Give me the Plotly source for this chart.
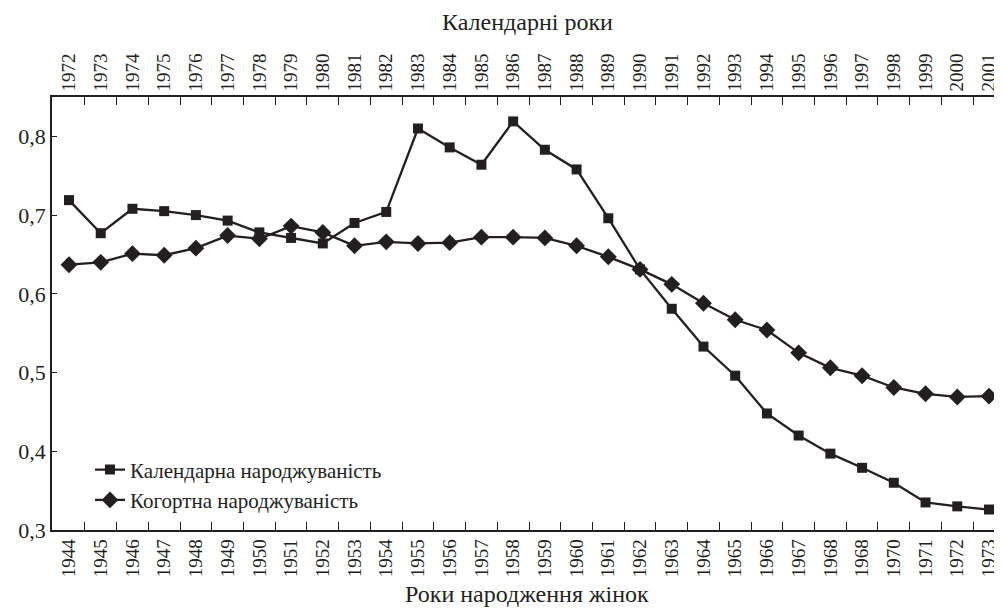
import plotly.graph_objects as go

birth_years = ["1944", "1945", "1946", "1947", "1948", "1949", "1950", "1951", "1952", "1953",
               "1954", "1955", "1956", "1957", "1958", "1959", "1960", "1961", "1962", "1963",
               "1964", "1965", "1966", "1967", "1968", "1968", "1970", "1971", "1972", "1973"]
calendar_years = [str(y) for y in range(1972, 2002)]

calendar_fert = [0.719, 0.677, 0.708, 0.705, 0.700, 0.693, 0.678, 0.671, 0.664, 0.690,
                 0.704, 0.810, 0.786, 0.764, 0.819, 0.783, 0.758, 0.696, 0.631, 0.581,
                 0.533, 0.496, 0.448, 0.420, 0.397, 0.379, 0.360, 0.335, 0.330, 0.326]
cohort_fert = [0.637, 0.640, 0.651, 0.649, 0.658, 0.674, 0.670, 0.686, 0.678, 0.661,
               0.666, 0.664, 0.665, 0.672, 0.672, 0.671, 0.661, 0.647, 0.631, 0.612,
               0.588, 0.567, 0.554, 0.525, 0.506, 0.496, 0.481, 0.473, 0.469, 0.470]

y_ticks = [0.3, 0.4, 0.5, 0.6, 0.7, 0.8]

INK = "#231f20"
FONT = "Liberation Serif"
idx = list(range(len(birth_years)))
bounds = [i + 0.5 for i in idx]
xr = [-0.536, 29.41]

fig = go.Figure()
fig.add_trace(go.Scatter(x=idx, y=calendar_fert, mode="lines+markers",
                         name="Календарна народжуваність",
                         line=dict(color=INK, width=2.3),
                         marker=dict(symbol="square", size=10, color=INK)))
fig.add_trace(go.Scatter(x=idx, y=cohort_fert, mode="lines+markers",
                         name="Когортна народжуваність",
                         line=dict(color=INK, width=2.3),
                         marker=dict(symbol="diamond", size=13, color=INK)))
# invisible trace to activate top axis
fig.add_trace(go.Scatter(x=idx, y=cohort_fert, xaxis="x2", mode="markers",
                         marker=dict(opacity=0), showlegend=False, hoverinfo="skip"))

# page body has an 8px default margin, so the figure is 8px smaller
fig.update_layout(
    width=994, height=600,
    margin=dict(l=44, r=0, t=89, b=78, autoexpand=False),
    paper_bgcolor="white", plot_bgcolor="white",
    separators=",.",
    font=dict(family=FONT, size=21, color=INK),
    showlegend=True,
    legend=dict(x=0.04, y=0.186, xanchor="left", yanchor="top",
                bgcolor="rgba(0,0,0,0)", font=dict(family=FONT, size=21, color=INK),
                tracegroupgap=0),
    xaxis=dict(range=xr, tickmode="array", tickvals=idx, ticktext=birth_years,
               tickangle=-90, ticks="", showgrid=False, zeroline=False, automargin=False,
               showline=True, linecolor=INK, linewidth=1.5,
               tickfont=dict(family=FONT, size=19, color=INK),
               minor=dict(tickmode="array", tickvals=bounds, ticks="inside",
                          ticklen=8, tickcolor=INK, tickwidth=1, showgrid=False)),
    xaxis2=dict(range=xr, overlaying="x", side="top", tickmode="array", tickvals=idx,
                ticktext=calendar_years, tickangle=-90, ticks="", showgrid=False,
                zeroline=False, showline=True, linecolor=INK, linewidth=1.5, automargin=False,
                tickfont=dict(family=FONT, size=19, color=INK),
                minor=dict(tickmode="array", tickvals=bounds, ticks="inside",
                           ticklen=8, tickcolor=INK, tickwidth=1, showgrid=False)),
    yaxis=dict(range=[0.3, 0.85], tickmode="array", tickvals=y_ticks, tickformat=".1f",
               ticks="inside", ticklen=5, tickcolor=INK, showgrid=False, zeroline=False,
               showline=True, linecolor=INK, linewidth=1.5, automargin=False,
               tickfont=dict(family=FONT, size=22, color=INK)),
    annotations=[
        dict(text="Календарні роки", xref="paper", yref="paper", x=0.5, y=(530 - 22) / 433,
             xanchor="center", yanchor="middle", showarrow=False,
             font=dict(family=FONT, size=24, color=INK)),
        dict(text="Роки народження жінок", xref="paper", yref="paper", x=0.5,
             y=(530 - 594) / 433, xanchor="center", yanchor="middle", showarrow=False,
             font=dict(family=FONT, size=24, color=INK)),
    ],
)

fig.write_html("out.html")
